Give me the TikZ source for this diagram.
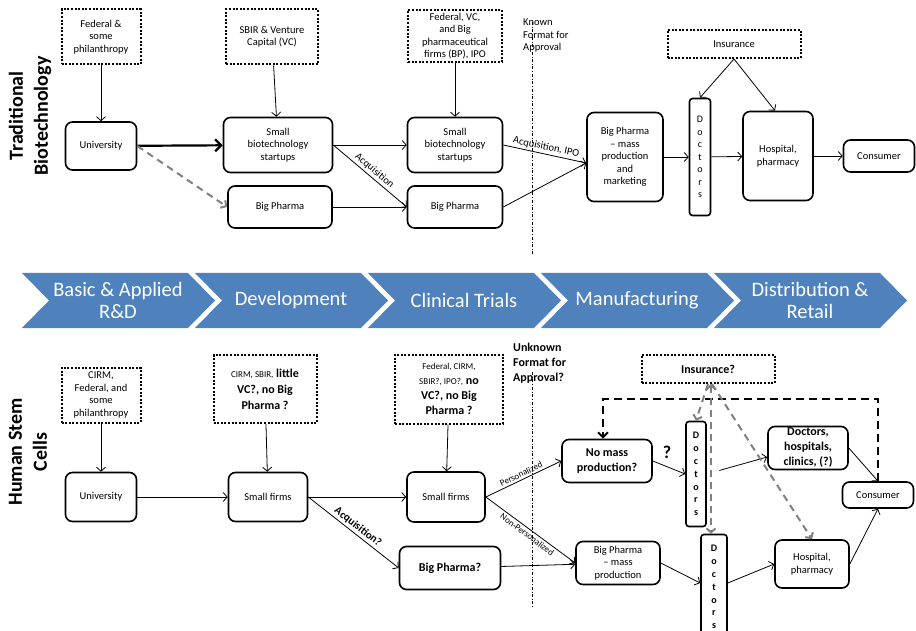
\documentclass[tikz,border=0pt]{standalone}
\usepackage{fontspec}
\setmainfont{Carlito}
\usetikzlibrary{arrows.meta}
\definecolor{chevblue}{RGB}{79,129,189}
\definecolor{greyline}{RGB}{128,128,128}
\newcommand{\nrm}{\fontsize{10.5}{12.5}\selectfont}
\newcommand{\smt}{\fontsize{9}{10.5}\selectfont}
\newcommand{\bgt}{\fontsize{12}{15}\selectfont\bfseries}
\begin{document}
\begin{tikzpicture}[x=1pt,y=-1pt,
    box/.style={draw,rounded corners=7pt,line width=1.6pt,align=center,font=\nrm,inner sep=1pt},
    dotbox/.style={draw,line width=2pt,dash pattern=on 2pt off 1.6pt,align=center,font=\nrm,inner sep=1pt},
    docbox/.style={draw,rounded corners=3pt,line width=1.6pt,align=center,inner sep=0pt,font=\fontsize{10}{12.5}\selectfont},
    arr/.style={-{Straight Barb[length=4pt,width=9pt]},line width=0.8pt},
    bigarr/.style={-{Straight Barb[length=6pt,width=12pt]},line width=2.2pt},
    greyarr/.style={-{Straight Barb[length=4pt,width=9pt]},greyline,line width=2pt,dash pattern=on 7pt off 5pt},
    fbarr/.style={-{Straight Barb[length=5pt,width=10pt]},line width=2pt,dash pattern=on 8pt off 5pt},
    side/.style={rotate=90,align=center,font=\fontsize{20}{25}\selectfont\bfseries}]
\useasboundingbox (0,0) rectangle (916,631);

\node[side] (tradtitle) at (30,116) {Traditional\\Biotechnology};
\node[side] (stemtitle) at (28,452) {Human Stem\\Cells};

\node[dotbox,minimum width=79,minimum height=55] (fedA) at (101,37) {Federal \&\\some\\philanthropy};
\node[dotbox,minimum width=92,minimum height=55] (sbir) at (272,37) {SBIR \& Venture\\Capital (VC)};
\node[dotbox,minimum width=94,minimum height=52] (fedB) at (455,36) {Federal, VC,\\and Big\\pharmaceutical\\firms (BP), IPO};
\node[box,minimum width=71,minimum height=48] (uniA) at (101,146) {University};
\node[box,minimum width=109,minimum height=55] (smallA) at (278,145) {Small\\biotechnology\\startups};
\node[box,minimum width=104,minimum height=42] (bpA) at (280,207) {Big Pharma};
\node[box,minimum width=95,minimum height=55] (smallB) at (455,145) {Small\\biotechnology\\startups};
\node[box,minimum width=95,minimum height=42] (bpB) at (455,207) {Big Pharma};
\node[box,minimum width=76,minimum height=89] (bpmass) at (625,157) {Big Pharma\\-- mass\\production\\and\\marketing};
\node[docbox,minimum width=21,minimum height=117] (docA) at (700,157) {D\\o\\c\\t\\o\\r\\s};
\node[box,minimum width=70,minimum height=89] (hosp) at (778,156) {Hospital,\\pharmacy};
\node[box,minimum width=71,minimum height=32] (cons) at (879,156) {Consumer};
\node[dotbox,minimum width=133,minimum height=28] (ins) at (734,44) {Insurance};
\node[anchor=north west,align=left,font=\nrm,inner sep=0pt] (known) at (523,19) {Known\\Format for\\Approval};
\draw[dash dot] (532,22) -- (532,255);

\draw[arr] (fedA) -- (uniA);
\draw[arr] (sbir) -- (smallA);
\draw[bigarr] (uniA) -- (smallA);
\draw[greyarr] (uniA.east) -- (bpA.west);
\draw[arr] (fedB) -- (smallB);
\draw[arr] (smallA) -- (smallB);
\draw[arr] (smallA.east) -- node[above,sloped,font=\nrm,inner sep=2pt] {Acquisition} (bpB.west);
\draw[arr] (bpA) -- (bpB);
\draw[arr] (smallB.east) -- node[above,sloped,font=\nrm,inner sep=2pt] {Acquisition, IPO} ([yshift=-6pt]bpmass.west);
\draw[arr] (bpB.east) -- ([yshift=-6pt]bpmass.west);
\draw[arr] (bpmass) -- (docA);
\draw[arr] (docA) -- (hosp);
\draw[arr] (hosp) -- (cons);
\draw[arr] (ins.south) -- (docA.north);
\draw[arr] (ins.south) -- ([xshift=-3pt]hosp.north);

\foreach \lbl [count=\i from 0, evaluate=\i as \l using 22+173*\i] in
    {{Basic \& Applied\\R\&D},Development,Clinical Trials,Manufacturing,{Distribution \&\\Retail}} {
  \fill[chevblue] (\l,273) -- ({\l+166},273) -- ({\l+193},300.5) -- ({\l+166},328) -- (\l,328) -- ({\l+27},300.5) -- cycle;
  \node[text=white,align=center,font=\fontsize{20.5}{22}\selectfont] (chev\i) at ({\l+96},300.5) {\lbl};
}

\node[dotbox,minimum width=79,minimum height=55] (fedC) at (101,395) {CIRM,\\Federal, and\\some\\philanthropy};
\node[dotbox,minimum width=103,minimum height=68,font=\fontsize{12}{16}\selectfont] (cirmA) at (265,389) {{\smt CIRM, SBIR,} \textbf{little}\\\textbf{VC?, no Big}\\\textbf{Pharma ?}};
\node[dotbox,minimum width=108,minimum height=69,font=\fontsize{12}{15}\selectfont] (cirmB) at (449,389) {{\smt Federal, CIRM,}\\{\smt SBIR?, IPO?,} \textbf{no}\\\textbf{VC?, no Big}\\\textbf{Pharma ?}};
\node[box,minimum width=71,minimum height=49] (uniB) at (101,497) {University};
\node[box,minimum width=79,minimum height=49] (firmsA) at (268,497) {Small firms};
\node[box,minimum width=78,minimum height=50] (firmsB) at (446,497) {Small firms};
\node[box,minimum width=101,minimum height=43,font=\bgt] (bpq) at (450,568) {Big Pharma?};
\node[box,minimum width=90,minimum height=43,font=\bgt] (nomass) at (607,461) {No mass\\production?};
\node[box,minimum width=84,minimum height=43] (bpmassB) at (618,563) {Big Pharma\\-- mass\\production};
\node[docbox,minimum width=20,minimum height=105,font=\fontsize{10}{12.8}\selectfont\bfseries] (docB) at (696,474) {D\\o\\c\\t\\o\\r\\s};
\node[docbox,minimum width=26,minimum height=105,font=\fontsize{10}{12.8}\selectfont\bfseries] (docC) at (714,587) {D\\o\\c\\t\\o\\r\\s};
\node[box,minimum width=80,minimum height=43,font=\bgt] (dhc) at (808,448) {Doctors,\\hospitals,\\clinics, (?)};
\node[box,minimum width=74,minimum height=48] (hospB) at (812,564) {Hospital,\\pharmacy};
\node[box,minimum width=71,minimum height=26] (consB) at (878,495) {Consumer};
\node[dotbox,minimum width=133,minimum height=28,font=\bgt] (insB) at (708,369) {Insurance?};
\node[anchor=north west,align=left,font=\bgt,inner sep=0pt] (unknown) at (513,343) {Unknown\\Format for\\Approval?};
\node[font=\fontsize{18}{20}\selectfont\bfseries] (qmark) at (667,452) {?};
\draw[dash dot] (532,372) -- (532,607);

\draw[arr] (fedC) -- (uniB);
\draw[arr] (cirmA) -- (firmsA);
\draw[arr] (uniB) -- (firmsA);
\draw[arr] (firmsA) -- (firmsB);
\draw[arr] (firmsA.east) -- node[above,sloped,font=\fontsize{11}{13}\selectfont\bfseries,inner sep=2pt] {Acquisition?} (bpq.west);
\draw[arr] (cirmB) -- (firmsB);
\draw[arr] (firmsB.east) -- node[above,sloped,font=\smt,inner sep=2pt] {Personalized} (nomass.west);
\draw[arr] (firmsB.east) -- node[below,sloped,font=\smt,inner sep=2pt] {Non-Personalized} (bpmassB.west);
\draw[arr] (bpq) -- (bpmassB);
\draw[arr] (nomass.east) -- (docB.west);
\draw[arr,shorten <=13pt] (docB.east) -- ([yshift=-9pt]dhc.west);
\draw[arr] (dhc.east) -- (consB.north);
\draw[arr] (bpmassB.east) -- ([yshift=4pt]docC.west);
\draw[arr] ([yshift=4pt]docC.east) -- (hospB.west);
\draw[arr] (hospB.east) -- (consB.south);
\draw[fbarr] (consB.north) -- ++(0,-82) -| ([xshift=-4pt]nomass.north);
\draw[greyarr] (insB.south) -- (docB.north);
\draw[greyarr,{Straight Barb[length=4pt,width=9pt]}-{Straight Barb[length=4pt,width=9pt]}] ([xshift=3pt]insB.south) -- ([xshift=-3pt]docC.north);
\draw[greyarr] ([xshift=4pt]insB.south) -- (hospB.north);
\end{tikzpicture}
\end{document}
